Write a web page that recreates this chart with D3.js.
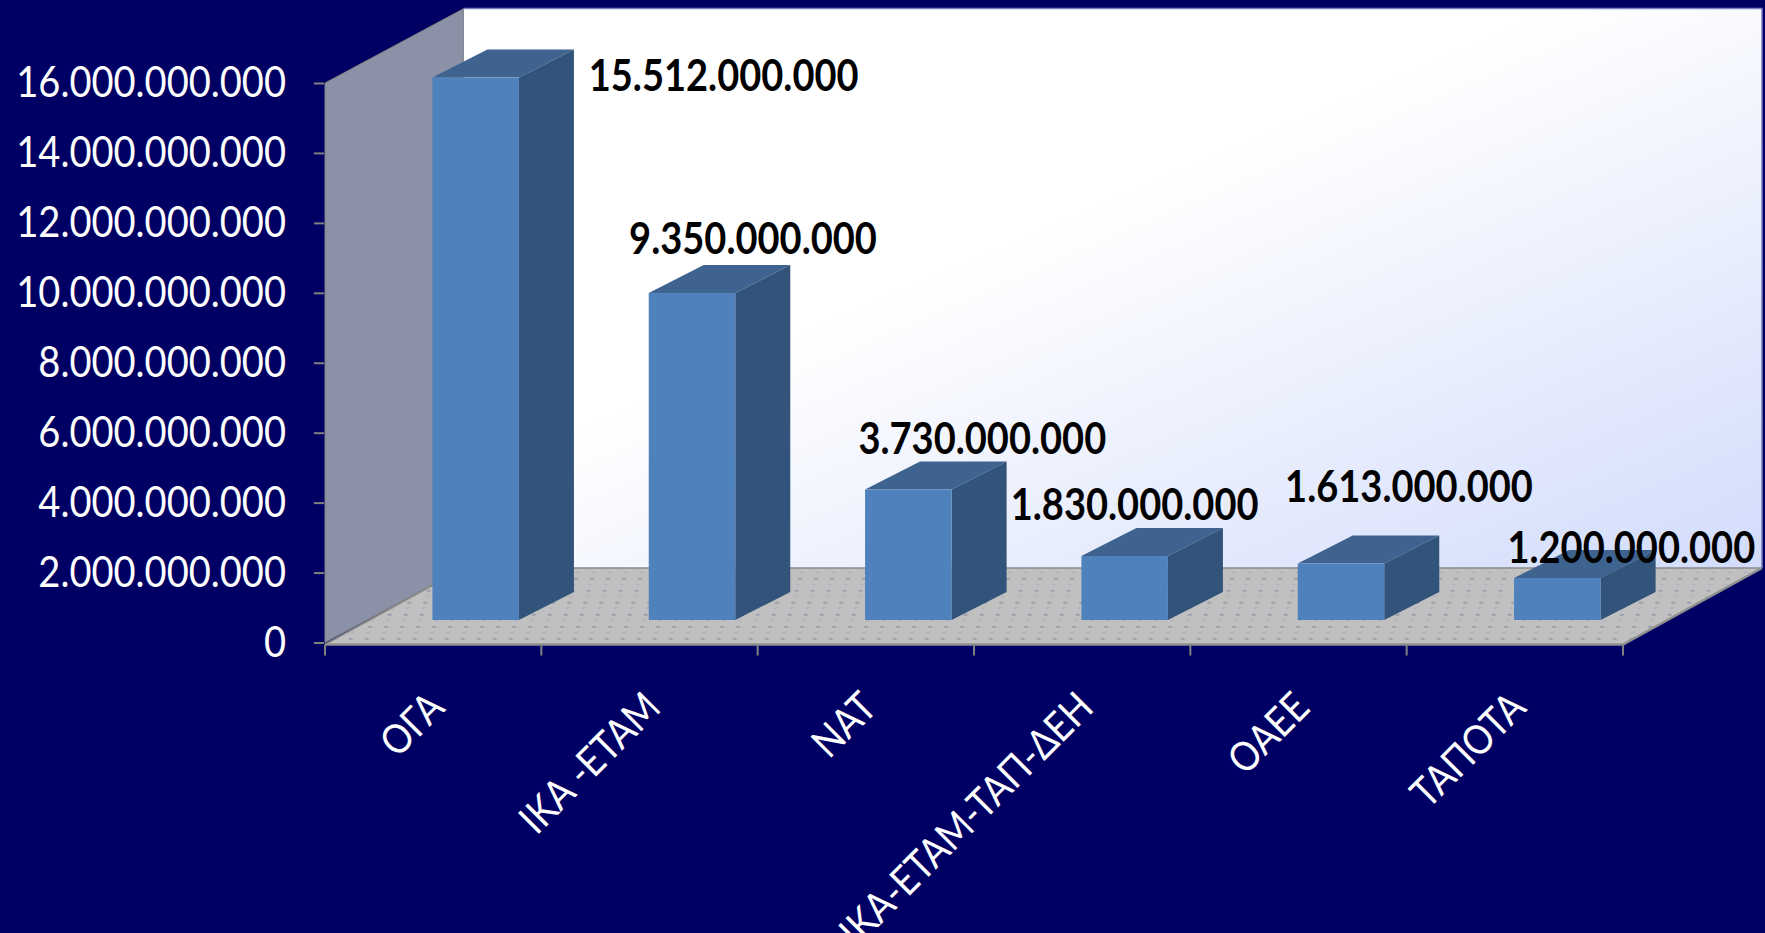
<!DOCTYPE html>
<html lang="el">
<head>
<meta charset="utf-8">
<title>Chart</title>
<script src="https://cdn.jsdelivr.net/npm/d3@7"></script>
<style>
    html, body { margin: 0; padding: 0; background: #000064; overflow: hidden; }
    svg { display: block; }
    text { font-family: Lato, "Open Sans", sans-serif; }
</style>
</head>
<body>
<div id="chart"></div>
<script>
const categories = ["ΟΓΑ", "ΙΚΑ -ΕΤΑΜ", "ΝΑΤ", "ΙΚΑ-ΕΤΑΜ-ΤΑΠ-ΔΕΗ", "ΟΑΕΕ", "ΤΑΠΟΤΑ"];
const values = [15512000000, 9350000000, 3730000000, 1830000000, 1613000000, 1200000000];
const yTicks = [0, 2000000000, 4000000000, 6000000000, 8000000000, 10000000000, 12000000000, 14000000000, 16000000000];

// data labels were hand placed in the original, offset from the top of each bar
const labelDx = [248, 61, 74, 10, 68, 74];
const labelDy = [-3, -56, -52, -53, -78, -32];

// Lato is wider than the original font, so text is set larger and squeezed
function squeeze(selection, k) {
    selection.each(function () {
        d3.select(this)
            .attr("textLength", this.getComputedTextLength() * k)
            .attr("lengthAdjust", "spacingAndGlyphs");
    });
}

document.addEventListener("DOMContentLoaded", () => {
    const width = 1765;
    const height = 933;

    const svg = d3.select("#chart").append("svg")
        .attr("width", width)
        .attr("height", height);

    // 1. SCALES
    const x = d3.scaleBand().domain(categories).range([325, 1623]).paddingInner(0.6).paddingOuter(0.3);
    const y = d3.scaleLinear().domain([0, 16000000000]).range([642.5, 83]);

    const left = x.range()[0];
    const right = x.range()[1];
    const base = y(0);
    const top = y(16000000000);

    // fake 3D: how far the back of the room and the bars are pushed
    const roomDx = 139, roomDy = 74.5;
    const barShiftX = 42.5, barShiftY = 22.5;
    const barDx = 55, barDy = 28;

    const line = pts => "M" + pts.map(p => p.join(",")).join("L") + "Z";

    // 2. DEFS
    const defs = svg.append("defs");
    const grad = defs.append("linearGradient").attr("id", "wall-fill")
        .attr("x1", "42%").attr("y1", "42%").attr("x2", "100%").attr("y2", "100%");
    grad.append("stop").attr("offset", "0%").attr("stop-color", "#ffffff");
    grad.append("stop").attr("offset", "100%").attr("stop-color", "#d2dcfb");

    const dots = defs.append("pattern").attr("id", "floor-dots")
        .attr("patternUnits", "userSpaceOnUse")
        .attr("width", 16).attr("height", 12)
        .attr("patternTransform", "skewX(-16)");
    dots.append("rect").attr("width", 16).attr("height", 12).attr("fill", "#c0c0c0");
    dots.append("rect").attr("x", 4).attr("y", 2).attr("width", 4).attr("height", 1.5).attr("fill", "#8f96a8");
    dots.append("rect").attr("x", 4).attr("y", 8).attr("width", 4).attr("height", 1.2).attr("fill", "#aab0ba");

    // 3. ROOM
    svg.append("path")
        .attr("d", line([[left, top], [left + roomDx, top - roomDy], [left + roomDx, base - roomDy], [left, base]]))
        .attr("fill", "#8b91a6")
        .attr("stroke", "#808080");

    svg.append("path")
        .attr("d", line([[left + roomDx, top - roomDy], [right + roomDx, top - roomDy], [right + roomDx, base - roomDy], [left + roomDx, base - roomDy]]))
        .attr("fill", "url(#wall-fill)");
    svg.append("path")
        .attr("d", `M${left + roomDx},${top - roomDy}H${right + roomDx}V${base - roomDy}`)
        .attr("fill", "none")
        .attr("stroke", "#7a80c0")
        .attr("stroke-width", 1.5);

    svg.append("path")
        .attr("d", line([[left, base + 2], [left + roomDx, base - roomDy], [right + roomDx, base - roomDy], [right, base + 2]]))
        .attr("fill", "url(#floor-dots)");
    svg.append("path")
        .attr("d", `M${left},${base + 2}L${left + roomDx},${base - roomDy}H${right + roomDx}`)
        .attr("fill", "none")
        .attr("stroke", "#8a8a8a")
        .attr("stroke-width", 1.5);
    svg.append("path")
        .attr("d", `M${left},${base + 2}H${right}L${right + roomDx},${base - roomDy}`)
        .attr("fill", "none")
        .attr("stroke", "#8f8f8f")
        .attr("stroke-width", 2.5);

    // 4. BARS
    const bars = svg.selectAll(".bar")
        .data(categories)
        .enter()
        .append("g")
        .attr("class", "bar")
        .attr("transform", `translate(${barShiftX},${-barShiftY})`);

    bars.append("path")
        .attr("d", (d, i) => {
            const x0 = x(d), x1 = x0 + x.bandwidth(), yt = y(values[i]);
            return line([[x0, yt], [x0 + barDx, yt - barDy], [x1 + barDx, yt - barDy], [x1, yt]]);
        })
        .attr("fill", "#3e638f");

    bars.append("path")
        .attr("d", (d, i) => {
            const x1 = x(d) + x.bandwidth(), yt = y(values[i]);
            return line([[x1, yt], [x1 + barDx, yt - barDy], [x1 + barDx, base - barDy], [x1, base]]);
        })
        .attr("fill", "#32547a");

    bars.append("rect")
        .attr("x", d => x(d))
        .attr("y", (d, i) => y(values[i]))
        .attr("width", x.bandwidth())
        .attr("height", (d, i) => base - y(values[i]))
        .attr("fill", "#4f81bd");

    // 5. AXES
    const greek = d3.formatLocale({ decimal: ",", thousands: ".", grouping: [3], currency: ["", ""] });

    const yAxis = svg.append("g")
        .attr("transform", `translate(${left - 1},0)`)
        .call(d3.axisLeft(y).tickValues(yTicks).tickFormat(greek.format(",d")).tickSize(10).tickPadding(28));
    yAxis.select(".domain").remove();
    yAxis.selectAll("line").attr("stroke", "#808080").attr("stroke-width", 2);
    yAxis.selectAll("text").attr("fill", "#ffffff").style("font-size", "43px").call(squeeze, 0.885);

    // category ticks sit on the band edges, so they are drawn from the step
    svg.append("g").selectAll("line")
        .data(d3.range(categories.length + 1))
        .enter()
        .append("line")
        .attr("x1", i => left + i * x.step())
        .attr("x2", i => left + i * x.step())
        .attr("y1", base + 2)
        .attr("y2", base + 13)
        .attr("stroke", "#808080")
        .attr("stroke-width", 2);

    const xAxis = svg.append("g")
        .attr("transform", `translate(0,${base})`)
        .call(d3.axisBottom(x).tickSize(0));
    xAxis.select(".domain").remove();
    xAxis.selectAll("text")
        .attr("fill", "#ffffff")
        .attr("text-anchor", "end")
        .attr("transform", "translate(-7,47) rotate(-45)")
        .attr("x", 0)
        .attr("y", 0)
        .attr("dy", "0.7em")
        .style("font-size", "41px")
        .call(squeeze, 0.88);

    // 6. DATA LABELS
    svg.selectAll(".value-label")
        .data(categories)
        .enter()
        .append("text")
        .attr("class", "value-label")
        .attr("x", (d, i) => x(d) + x.bandwidth() / 2 + barShiftX + labelDx[i])
        .attr("y", (d, i) => y(values[i]) - barShiftY + labelDy[i])
        .attr("text-anchor", "middle")
        .attr("dominant-baseline", "central")
        .attr("fill", "#000000")
        .style("font-size", "43px")
        .style("font-weight", "700")
        .text((d, i) => greek.format(",d")(values[i]))
        .call(squeeze, 0.885);
});
</script>
</body>
</html>
